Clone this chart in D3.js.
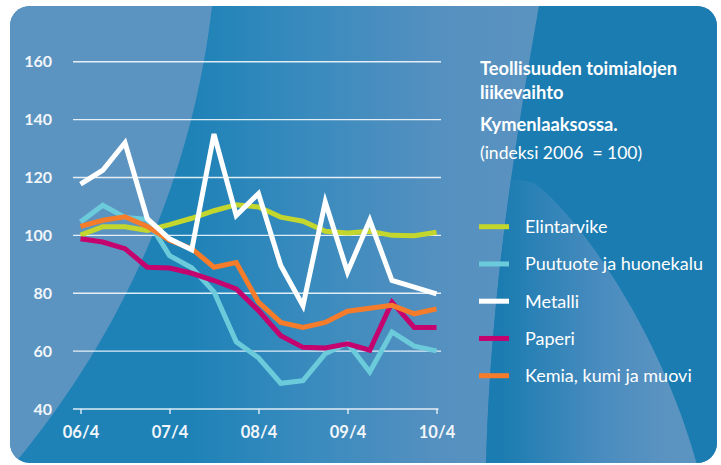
<!DOCTYPE html>
<html>
<head>
<meta charset="utf-8">
<script src="https://cdn.jsdelivr.net/npm/d3@7"></script>
<style>
  html, body { margin: 0; padding: 0; background: #ffffff; }
  svg { display: block; font-family: Lato, "Open Sans", sans-serif; }
</style>
</head>
<body>
<svg id="chart" width="721" height="465"></svg>
<script>
// quarters on the x axis, 06/4 .. 10/4
const quarters = ['06/4', '07/1', '07/2', '07/3', '07/4', '08/1', '08/2', '08/3', '08/4',
  '09/1', '09/2', '09/3', '09/4', '10/1', '10/2', '10/3', '10/4'];
const xTickLabels = ['06/4', '07/4', '08/4', '09/4', '10/4'];
const yTicks = [40, 60, 80, 100, 120, 140, 160];

// index 2006 = 100
const elintarvike = [100.1, 103, 103, 101.7, 103.7, 105.9, 108.5, 110.6, 109.8, 106.3, 104.9, 101.4, 100.8, 101.4, 100, 99.9, 101.1];
const puutuote = [104.6, 110.4, 106.2, 105.5, 93, 88.8, 80.5, 63.2, 57.7, 48.9, 49.8, 59.1, 62.8, 52.8, 66.6, 61.7, 60.1];
const metalli = [117.7, 122.5, 132, 105.8, 98.8, 95, 135, 106.9, 114.4, 89.6, 75.7, 111.5, 87.3, 105.2, 84.4, 82.1, 79.8];
const paperi = [98.8, 97.7, 95.4, 89, 88.7, 86.9, 84.4, 81.5, 74, 65.3, 61.3, 61.1, 62.5, 60.3, 76.9, 68.2, 68.2];
const kemia = [103.1, 105.2, 106.4, 103.1, 98.3, 95.4, 89, 90.6, 76.9, 69.9, 68.2, 69.9, 73.8, 74.8, 75.8, 72.9, 74.6];

const legendNames = ['Elintarvike', 'Puutuote ja huonekalu', 'Metalli', 'Paperi', 'Kemia, kumi ja muovi'];
const legendColors = ['#c2d62e', '#6ccbdb', '#ffffff', '#c4036f', '#f47c2b'];
const titleLines = ['Teollisuuden toimialojen', 'liikevaihto', 'Kymenlaaksossa.', '(indeksi 2006\u00a0 = 100)'];

const svg = d3.select('#chart');
const defs = svg.append('defs');

// background card ------------------------------------------------------
const darkPath = 'M540,0 L721,0 L721,465 L486,465 C490,300 515,140 540,0 Z';

defs.append('clipPath').attr('id', 'card')
  .append('rect').attr('x', 10).attr('y', 6).attr('width', 707).attr('height', 457).attr('rx', 20);
defs.append('clipPath').attr('id', 'dark')
  .append('path').attr('d', darkPath);

const baseGrad = defs.append('linearGradient').attr('id', 'baseGrad')
  .attr('gradientUnits', 'userSpaceOnUse').attr('x1', 190).attr('x2', 540).attr('y1', 0).attr('y2', 0);
baseGrad.append('stop').attr('offset', 0).attr('stop-color', '#1e82b7');
baseGrad.append('stop').attr('offset', 0.35).attr('stop-color', '#3a8bbe');
baseGrad.append('stop').attr('offset', 0.7).attr('stop-color', '#5490c0');
baseGrad.append('stop').attr('offset', 1).attr('stop-color', '#5b93c0');

const ovalGrad = defs.append('linearGradient').attr('id', 'ovalGrad')
  .attr('gradientUnits', 'userSpaceOnUse').attr('x1', 500).attr('x2', 670).attr('y1', 0).attr('y2', 0);
ovalGrad.append('stop').attr('offset', 0).attr('stop-color', '#1b7cb1');
ovalGrad.append('stop').attr('offset', 0.6).attr('stop-color', '#4a8cbf');
ovalGrad.append('stop').attr('offset', 1).attr('stop-color', '#5c94c1');

const bg = svg.append('g').attr('clip-path', 'url(#card)');
bg.append('rect').attr('x', 10).attr('y', 6).attr('width', 707).attr('height', 457).attr('fill', 'url(#baseGrad)');
bg.append('path') // light band on the left
  .attr('d', 'M0,0 L212,0 L212,6 C198,130 150,300 15,463 L0,463 Z')
  .attr('fill', '#5c94c1');
bg.append('path') // dark block on the right
  .attr('d', darkPath)
  .attr('fill', '#1b7cb1');
bg.append('g').attr('clip-path', 'url(#dark)')
  .append('path') // lighter oval inside the dark block
  .attr('d', 'M470,200 Q500,172 534,183 C578,215 660,330 697,465 L470,465 Z')
  .attr('fill', 'url(#ovalGrad)');

// scales ----------------------------------------------------------------
const x = d3.scalePoint().domain(quarters).range([80.5, 436.5]);
const y = d3.scaleLinear().domain([40, 160]).range([409, 61.7]);

const chart = svg.append('g');

// grid lines (the 40 line is the axis itself)
chart.append('g').selectAll('line')
  .data(yTicks.filter(t => t > 40))
  .join('line')
  .attr('x1', 73).attr('x2', 441)
  .attr('y1', d => y(d)).attr('y2', d => y(d))
  .attr('stroke', '#ffffff').attr('stroke-opacity', 0.85).attr('stroke-width', 1.4);

// y labels
chart.append('g').selectAll('text')
  .data(yTicks)
  .join('text')
  .attr('x', 52).attr('y', d => y(d))
  .attr('dy', '0.36em')
  .attr('text-anchor', 'end')
  .attr('fill', '#f2f6fa')
  .attr('font-size', 16).attr('font-weight', 700)
  .text(d => d);

// x axis
const xAxis = d3.axisBottom(x)
  .tickValues(xTickLabels)
  .tickSize(5)
  .tickPadding(12);
const axisG = chart.append('g')
  .attr('transform', `translate(0, ${y(40)})`)
  .call(xAxis);
axisG.select('.domain').remove();
axisG.insert('line', ':first-child')
  .attr('x1', 73).attr('x2', 438.5)
  .attr('stroke', '#ffffff').attr('stroke-opacity', 0.85).attr('stroke-width', 1.4);
axisG.selectAll('.tick line').attr('stroke', '#ffffff').attr('stroke-opacity', 0.85).attr('stroke-width', 1.4);
axisG.selectAll('.tick text')
  .attr('fill', '#f2f6fa')
  .attr('font-family', 'Lato, "Open Sans", sans-serif')
  .attr('font-size', 16.5).attr('font-weight', 700);

// lines -----------------------------------------------------------------
const series = [
  { name: legendNames[0], values: elintarvike, color: legendColors[0] },
  { name: legendNames[1], values: puutuote, color: legendColors[1] },
  { name: legendNames[3], values: paperi, color: legendColors[3] },
  { name: legendNames[4], values: kemia, color: legendColors[4] },
  { name: legendNames[2], values: metalli, color: legendColors[2] },
];

const line = d3.line()
  .x((d, i) => x(quarters[i]))
  .y(d => y(d));

chart.append('g').selectAll('path')
  .data(series)
  .join('path')
  .attr('d', s => line(s.values))
  .attr('fill', 'none')
  .attr('stroke', s => s.color)
  .attr('stroke-width', 5)
  .attr('stroke-linejoin', 'miter')
  .attr('stroke-miterlimit', 4);

// title ------------------------------------------------------------------
const title = svg.append('g').attr('fill', '#ffffff');
const titleY = [75, 98.5, 131, 158.5];
title.selectAll('text')
  .data(titleLines)
  .join('text')
  .attr('x', 480)
  .attr('y', (d, i) => titleY[i])
  .attr('font-size', (d, i) => i < 3 ? 18.3 : 17.5)
  .attr('font-weight', (d, i) => i < 3 ? 700 : 400)
  .text(d => d);

// legend -----------------------------------------------------------------
const legend = svg.append('g');
const legendRow = d3.scalePoint().domain(legendNames).range([226.7, 375.7]);
const item = legend.selectAll('g')
  .data(legendNames)
  .join('g')
  .attr('transform', d => `translate(0, ${legendRow(d)})`);
item.append('line')
  .attr('x1', 479).attr('x2', 509)
  .attr('stroke', (d, i) => legendColors[i])
  .attr('stroke-width', 5);
item.append('text')
  .attr('x', 525)
  .attr('dy', '0.36em')
  .attr('fill', '#ffffff')
  .attr('font-size', 18)
  .text(d => d);
</script>
</body>
</html>
